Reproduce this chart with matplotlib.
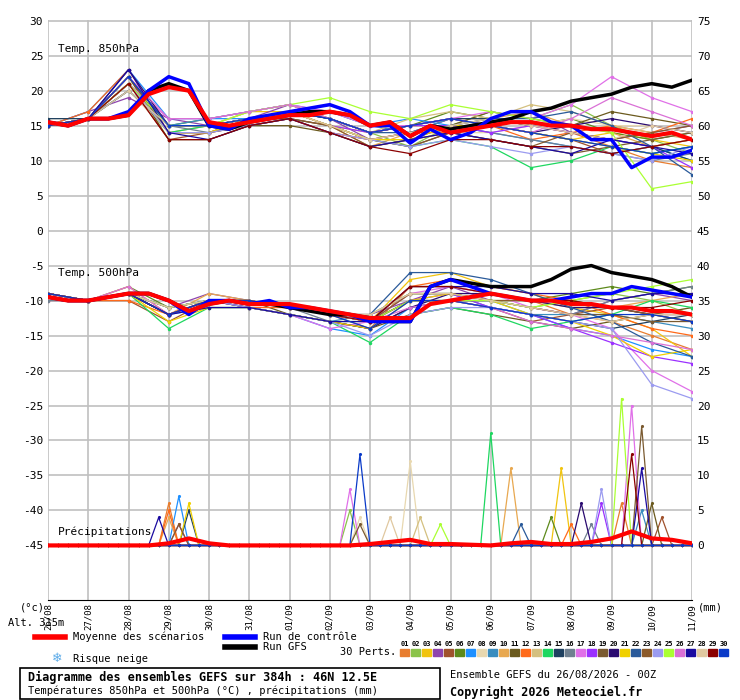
import numpy as np
import matplotlib
matplotlib.use("Agg")
import matplotlib.pyplot as plt
from matplotlib.patches import Rectangle

plt.rcParams['font.family'] = ['DejaVu Sans Mono']

day_labels = ["26/08","27/08","28/08","29/08","30/08","31/08","01/09","02/09","03/09",
              "04/09","05/09","06/09","07/09","08/09","09/09","10/09","11/09"]

# 12-hourly series (33 points)
mean850 = [15.5,15,16,16,16.5,19.5,20.5,20,15.5,15,15.5,16,16.5,16.5,17,16.5,15,15.5,13.5,15,14,14.5,15,15.5,15.5,15,15,14.5,14.5,14,13.5,14,13]
ctrl850 = [15.5,15,16,16,17,20,22,21,15,14.5,16,16.5,17,17.5,18,17,15,15,12.5,14.5,13,14,16,17,17,15.5,15,13,13,9,10.5,10.5,11.5]
gfs850  = [15.5,15,16,16,16.5,20,21,20,15,14.5,15.5,16,16.5,17,17,16.5,15,15.5,13.5,15,14.5,15,15.5,16,17,17.5,18.5,19,19.5,20.5,21,20.5,21.5]
mean500 = [-9.5,-10,-10,-9.5,-9,-9,-10,-11.5,-10.5,-10,-10.5,-10.5,-10.5,-11,-11.5,-12,-12.5,-12.5,-12.5,-10.5,-10,-9.5,-9,-9.5,-10,-10,-10.5,-10.5,-11,-11,-11.5,-11.5,-12]
ctrl500 = [-9.5,-10,-10,-9.5,-9,-9,-10,-12,-10,-10,-10.5,-10,-11,-11,-11.5,-12,-13,-13,-13,-8,-7,-8,-9,-9.5,-10,-10,-9.5,-9,-9,-8,-8.5,-9,-9.5]
gfs500  = [-9.5,-10,-10,-9.5,-9,-9,-10,-11.5,-10.5,-10,-10.5,-10.5,-11,-11.5,-12,-12,-12.5,-13,-13,-8,-7,-7.5,-8,-8,-8,-7,-5.5,-5,-6,-6.5,-7,-8,-9.5]
meanpr  = [0,0,0,0,0,0,0.3,1,0.3,0,0,0,0,0,0,0,0.2,0.5,0.8,0.2,0.2,0.1,0,0.3,0.5,0.2,0.2,0.5,1.0,2.0,1.0,0.8,0.3]

# daily perturbation series (17 points)
p850 = [
 [15,16,21,15,15,16,17,15,13,14,16,16,15,14,12,10,9],
 [15,16,22,14,14,16,17,16,14,12,15,17,16,18,15,13,11],
 [15,16,20,15,15,17,17,15,14,15,15,15,14,13,14,13,12],
 [15,17,19,16,15,16,18,16,13,14,16,15,17,14,13,14,15],
 [15,16,21,13,14,15,16,14,13,12,14,15,14,13,11,12,13],
 [15,16,22,15,16,17,18,16,14,15,17,16,15,16,14,13,14],
 [15,17,23,16,16,16,17,17,15,16,15,14,13,12,11,12,10],
 [16,16,20,14,14,16,17,15,13,13,14,14,15,16,15,15,14],
 [15,16,21,15,16,17,18,17,15,14,16,15,14,13,12,11,12],
 [15,16,21,14,15,16,17,15,12,14,15,16,17,15,14,12,13],
 [15,16,22,13,13,15,15,14,12,13,15,17,16,15,17,16,15],
 [15,17,23,14,14,16,16,14,13,14,14,15,13,14,15,14,16],
 [15,16,22,15,15,17,18,16,14,16,17,16,18,17,15,14,13],
 [15,16,21,14,15,16,17,15,13,12,13,12,9,10,12,11,12],
 [16,16,22,15,15,16,17,16,14,15,16,16,15,14,13,12,10],
 [15,16,20,15,14,16,16,15,13,14,15,14,13,12,11,10,11],
 [15,16,21,16,16,17,18,17,15,15,16,17,16,18,22,19,17],
 [15,16,21,15,15,16,17,15,14,15,15,14,15,14,13,12,9],
 [15,16,22,14,14,15,16,15,13,12,14,13,12,11,12,13,14],
 [15,16,23,15,15,16,17,16,14,15,16,15,14,15,16,15,14],
 [15,16,21,14,14,16,17,15,13,13,15,15,14,13,12,11,10],
 [15,16,20,15,15,16,17,16,14,14,15,16,16,17,15,12,8],
 [15,16,22,15,15,16,16,15,12,13,14,13,12,14,13,14,15],
 [15,16,21,14,14,15,16,14,13,12,13,12,11,12,11,10,12],
 [15,16,21,15,15,17,18,19,17,16,18,17,16,15,14,6,7],
 [15,16,22,16,16,17,18,16,14,15,16,15,14,16,19,17,15],
 [15,16,23,14,13,15,16,14,12,13,14,13,12,11,13,12,11],
 [15,16,20,15,15,16,17,15,13,14,15,16,15,14,13,15,14],
 [15,16,21,13,13,15,16,14,12,11,13,13,12,12,11,12,13],
 [15,16,22,15,15,16,17,16,14,15,16,15,14,13,12,11,12],
]
p500 = [
 [-9,-10,-9,-12,-10,-10,-11,-12,-14,-8,-8,-9,-10,-12,-13,-15,-17],
 [-9,-10,-9,-11,-10,-11,-12,-13,-13,-9,-9,-10,-11,-10,-9,-10,-12],
 [-9,-10,-9,-12,-10,-10,-11,-12,-13,-7,-6,-8,-9,-11,-12,-14,-18],
 [-10,-10,-9,-11,-9,-10,-11,-12,-12,-10,-8,-10,-11,-12,-10,-9,-10],
 [-9,-10,-10,-13,-10,-11,-12,-13,-14,-11,-10,-11,-13,-12,-11,-12,-13],
 [-9,-10,-8,-11,-10,-10,-11,-12,-12,-9,-9,-10,-10,-9,-8,-9,-8],
 [-9,-10,-9,-12,-11,-11,-12,-14,-15,-11,-10,-10,-12,-14,-15,-17,-18],
 [-10,-10,-9,-11,-10,-10,-11,-12,-13,-8,-8,-9,-10,-11,-13,-12,-11],
 [-9,-10,-9,-12,-10,-11,-12,-13,-12,-9,-9,-11,-12,-12,-12,-13,-14],
 [-9,-10,-8,-12,-9,-10,-11,-12,-13,-10,-10,-9,-10,-10,-11,-10,-9],
 [-9,-10,-9,-11,-10,-10,-12,-13,-14,-12,-11,-12,-13,-14,-13,-12,-11],
 [-9,-10,-10,-12,-10,-11,-11,-12,-13,-8,-7,-8,-9,-10,-12,-14,-15],
 [-9,-10,-9,-11,-10,-10,-11,-12,-12,-9,-9,-10,-10,-11,-11,-12,-12],
 [-9,-10,-9,-14,-11,-11,-12,-13,-16,-12,-11,-12,-14,-13,-12,-10,-11],
 [-9,-10,-9,-12,-10,-10,-11,-12,-13,-10,-10,-11,-12,-13,-14,-13,-12],
 [-10,-10,-9,-11,-10,-10,-11,-13,-14,-11,-10,-10,-11,-12,-10,-9,-8],
 [-9,-10,-9,-12,-10,-11,-12,-14,-13,-9,-8,-9,-11,-12,-14,-20,-23],
 [-9,-10,-9,-11,-10,-10,-11,-12,-13,-10,-9,-11,-12,-14,-16,-18,-19],
 [-9,-10,-9,-12,-10,-10,-11,-12,-13,-10,-10,-10,-11,-12,-12,-13,-13],
 [-9,-10,-9,-12,-10,-11,-12,-13,-14,-11,-9,-9,-10,-11,-11,-12,-12],
 [-9,-10,-9,-13,-11,-11,-12,-13,-14,-10,-9,-10,-12,-13,-15,-18,-17],
 [-9,-10,-9,-11,-10,-10,-11,-12,-12,-6,-6,-7,-9,-11,-13,-16,-18],
 [-9,-10,-9,-12,-10,-10,-11,-12,-13,-9,-9,-10,-10,-10,-11,-12,-13],
 [-9,-10,-9,-12,-10,-11,-12,-13,-15,-12,-11,-11,-12,-13,-14,-22,-24],
 [-9,-10,-9,-11,-10,-10,-11,-12,-13,-10,-10,-10,-11,-10,-9,-8,-7],
 [-9,-10,-8,-12,-10,-10,-11,-12,-13,-11,-10,-11,-13,-14,-15,-16,-17],
 [-9,-10,-9,-12,-11,-11,-12,-13,-13,-8,-8,-8,-9,-9,-10,-9,-9],
 [-9,-10,-9,-11,-10,-10,-11,-12,-12,-9,-9,-10,-11,-12,-13,-12,-12],
 [-9,-10,-9,-12,-10,-10,-11,-12,-13,-8,-8,-9,-10,-10,-11,-11,-10],
 [-9,-10,-9,-12,-10,-10,-11,-12,-14,-10,-10,-11,-12,-13,-12,-12,-13],
]
# precipitation spikes: (member index 0-29, hour, mm)
pr_spikes = [
 (0,72,6),(6,78,7),(11,72,5),(20,84,6),(26,66,4),(3,78,3),(9,72,4),(14,84,5),(22,78,3),
 (1,180,5),(18,186,3),(29,186,13),(16,180,8),(7,186,4),(27,204,4),
 (7,216,12),(12,222,4),(24,234,3),(13,264,16),(9,276,11),(21,282,3),(5,300,4),
 (2,306,11),(19,318,6),(15,324,3),(23,330,8),(24,342,21),(16,348,20),(28,348,13),
 (18,354,17),(26,354,11),(10,360,6),(0,342,6),(4,366,4),(8,354,5),(17,330,6),(11,312,3),
]

pert_colors = ["#e87d2f","#8bc34a","#f1c40f","#8e44ad","#a0522d","#5d8a1c","#1e90ff","#e8d8b0",
               "#3a8dbf","#e8a850","#6b5a1e","#ff6a1a","#d4c080","#1ed760","#1e4060","#708090",
               "#e070e8","#9b30ff","#7a5a30","#2a0a70","#f0d000","#2a5a9a","#8b5a2b","#9b9bf0",
               "#aaff33","#da70d6","#1a0aa0","#e0c8a0","#8b0000","#0a3ac8"]

hours12 = np.arange(0, 385, 12)
hours24 = np.arange(0, 385, 24)
hours6 = np.arange(0, 385, 6)
xd12 = hours12 / 24.0
xd24 = hours24 / 24.0
xd6 = hours6 / 24.0

fig = plt.figure(figsize=(7.4, 7.0), dpi=100)
ax = fig.add_axes([48/740, 100/700, 644/740, 580/700])
ax.set_xlim(0, 16)
ax.set_ylim(-52.8, 30.1)

for v in range(-45, 31, 5):
    ax.axhline(v, color="#c0c0c0", lw=1.2, zorder=0)
for d in range(0, 17):
    ax.axvline(d, color="#c0c0c0", lw=1.2, zorder=0)

for i in range(30):
    series = np.zeros(len(hours6))
    for (m, h, v) in pr_spikes:
        if m == i:
            series[h // 6] = v
    ax.plot(xd6, series - 45, color=pert_colors[i], lw=0.9, marker='.', ms=2.5, zorder=2)
    ax.plot(xd24, np.array(p850[i]), color=pert_colors[i], lw=0.9, marker='.', ms=3, zorder=2)
    ax.plot(xd24, np.array(p500[i]), color=pert_colors[i], lw=0.9, marker='.', ms=3, zorder=2)

ax.plot(xd12, gfs850, color="black", lw=2.5, zorder=3)
ax.plot(xd12, gfs500, color="black", lw=2.5, zorder=3)
ax.plot(xd12, ctrl850, color="#0000ff", lw=2.5, zorder=4)
ax.plot(xd12, ctrl500, color="#0000ff", lw=2.5, zorder=4)
ax.plot(xd12, mean850, color="#ff0000", lw=3, zorder=5)
ax.plot(xd12, mean500, color="#ff0000", lw=3, zorder=5)
ax.plot(xd12, np.array(meanpr) - 45, color="#ff0000", lw=3, zorder=5)

ax.text(0.25, 25.5, "Temp. 850hPa", fontsize=8)
ax.text(0.25, -6.5, "Temp. 500hPa", fontsize=8)
ax.text(0.25, -43.5, "Précipitations", fontsize=8)

for s in ["top", "left", "right"]:
    ax.spines[s].set_visible(False)
ax.spines["bottom"].set_color("black")
ax.tick_params(length=0)
ax.tick_params(axis='x', pad=2)
ax.set_yticks(range(-45, 31, 5))
ax.set_yticklabels([str(v) for v in range(-45, 31, 5)], fontsize=8)
ax.set_xticks(range(17))
ax.set_xticklabels(day_labels, rotation=90, fontsize=6.5, va="top")
ax2 = ax.twinx()
ax2.set_ylim(-52.8 + 45, 30.1 + 45)
ax2.set_yticks(range(0, 76, 5))
ax2.set_yticklabels([str(v) for v in range(0, 76, 5)], fontsize=8)
ax2.tick_params(length=0)
for s in ax2.spines.values():
    s.set_visible(False)

fig.text(20/740, 1 - 607/700, "(°c)", fontsize=7.5, va="center")
fig.text(698/740, 1 - 607/700, "(mm)", fontsize=7.5, va="center")
fig.text(8/740, 1 - 623/700, "Alt. 315m", fontsize=7.5, va="center")

def legline(x0, y, color):
    fig.add_artist(plt.Line2D([x0/740, (x0+30)/740], [1-y/700, 1-y/700], color=color, lw=4))
legline(35, 637, "red"); fig.text(73/740, 1-637/700, "Moyenne des scénarios", fontsize=7.5, va="center")
legline(225, 637, "#0000ff"); fig.text(263/740, 1-637/700, "Run de contrôle", fontsize=7.5, va="center")
legline(225, 647, "black"); fig.text(263/740, 1-647/700, "Run GFS", fontsize=7.5, va="center")
fig.text(52/740, 1-659/700, "❄", fontsize=9, color="#5aaae8", va="center", family=["DejaVu Sans"])
fig.text(73/740, 1-659/700, "Risque neige", fontsize=7.5, va="center")
fig.text(340/740, 1-652/700, "30 Perts.", fontsize=7.5, va="center")
for i in range(30):
    x0 = 400 + i * 11
    fig.text((x0 + 5)/740, 1-644/700, "%02d" % (i+1), fontsize=5, ha="center", va="center", weight="bold")
    fig.add_artist(Rectangle((x0/740, 1-656/700), 9/740, 7/700, color=pert_colors[i]))

fig.add_artist(Rectangle((20/740, 1-699/700), 420/740, 31/700, fill=False, ec="black", lw=1.2))
fig.text(28/740, 1-677/700, "Diagramme des ensembles GEFS sur 384h : 46N 12.5E", fontsize=8.5, weight="bold", va="center")
fig.text(28/740, 1-691/700, "Températures 850hPa et 500hPa (°C) , précipitations (mm)", fontsize=7.5, va="center")
fig.text(450/740, 1-675/700, "Ensemble GEFS du 26/08/2026 - 00Z", fontsize=7.5, va="center")
fig.text(450/740, 1-692/700, "Copyright 2026 Meteociel.fr", fontsize=8.5, weight="bold", va="center")

fig.savefig("out.png", dpi=100)
